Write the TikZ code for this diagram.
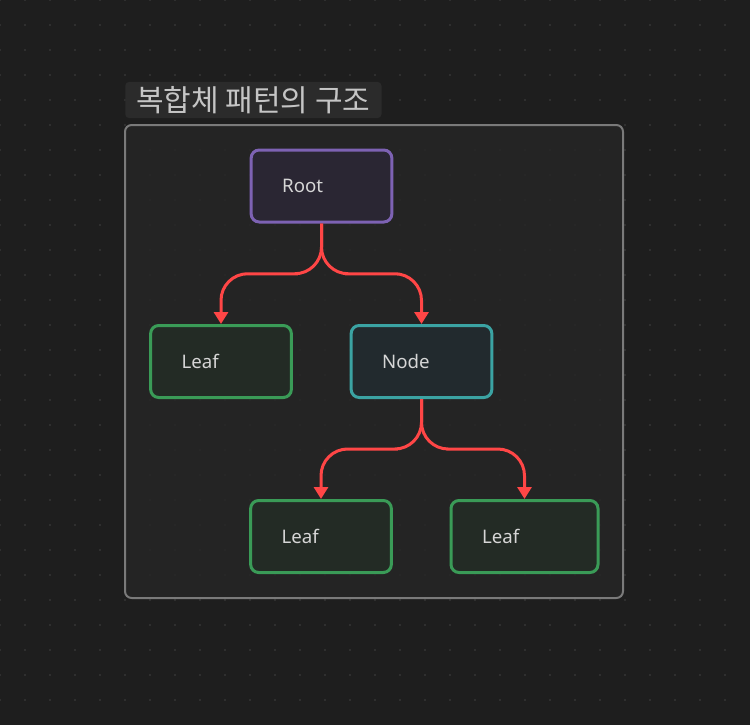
\documentclass[tikz,border=0pt]{standalone}
\usepackage{fontspec}
\setmainfont{Noto Sans}
\newfontfamily\krfont{Noto Sans CJK KR}
\usetikzlibrary{arrows.meta,calc}
\definecolor{bgcol}{HTML}{1E1E1E}
\definecolor{dotcol}{HTML}{2F2F2F}
\definecolor{grpfill}{HTML}{262626}
\definecolor{grpline}{HTML}{7A7A7A}
\definecolor{titlefill}{HTML}{2B2B2B}
\definecolor{txtcol}{HTML}{D6D6D6}
\definecolor{edgecol}{HTML}{FF4646}
\definecolor{purpline}{HTML}{7D62B3}
\definecolor{purpfill}{HTML}{2A2633}
\definecolor{greenline}{HTML}{3A9B57}
\definecolor{greenfill}{HTML}{232B25}
\definecolor{tealline}{HTML}{3BA3A3}
\definecolor{tealfill}{HTML}{222A2E}
\tikzset{
  box/.style={draw, line width=2.25pt, rounded corners=6pt, minimum height=54pt,
    inner xsep=23.25pt, text width=59pt, align=left, text=txtcol,
    font=\fontsize{14}{16}\selectfont},
  rootbox/.style={box, draw=purpline, fill=purpfill},
  leafbox/.style={box, draw=greenline, fill=greenfill},
  compbox/.style={box, draw=tealline, fill=tealfill},
  edge/.style={draw=edgecol, line width=2.25pt, rounded corners=20pt,
    -{Triangle[length=9pt,width=10.5pt]}},
}
\begin{document}
\begin{tikzpicture}[x=0.75pt, y=-0.75pt]
	\useasboundingbox[fill=bgcol] (0,0) rectangle (750,725);
	% dot grid
	\foreach \i in {0,...,29}{
		\foreach \j in {0,...,28}{
			\fill[dotcol] (\i*25-1,\j*25-1) rectangle ++(2,2);
		}
	}
	% group frame
	\draw[grpline, line width=1.5pt, rounded corners=5pt, fill=grpfill, fill opacity=0.85]
		(125,125) rectangle (623,598);
	\node[anchor=west, fill=titlefill, rounded corners=3pt, minimum height=27pt,
		inner xsep=8.25pt, text=txtcol!92!black, font=\krfont\fontsize{22.5}{26}\selectfont]
		(title) at (125,100) {복합체 패턴의 구조};
	% nodes
	\node[rootbox] (root) at (321.5,186) {Root};
	\node[leafbox] (leafa) at (221,361.5) {Leaf};
	\node[compbox] (comp) at (421.5,361.5) {Node};
	\node[leafbox] (leafb) at (321,536.5) {Leaf};
	\node[leafbox, text width=63.75pt] (leafc) at (524.5,536.5) {Leaf};
	% connectors
	\draw[edge] (root.south) |- ($(root.south)!.5!(leafa.north)$) -| (leafa.north);
	\draw[edge] (root.south) |- ($(root.south)!.5!(comp.north)$) -| (comp.north);
	\draw[edge] (comp.south) |- ($(comp.south)!.5!(leafb.north)$) -| (leafb.north);
	\draw[edge] (comp.south) |- ($(comp.south)!.5!(leafc.north)$) -| (leafc.north);
\end{tikzpicture}
\end{document}
